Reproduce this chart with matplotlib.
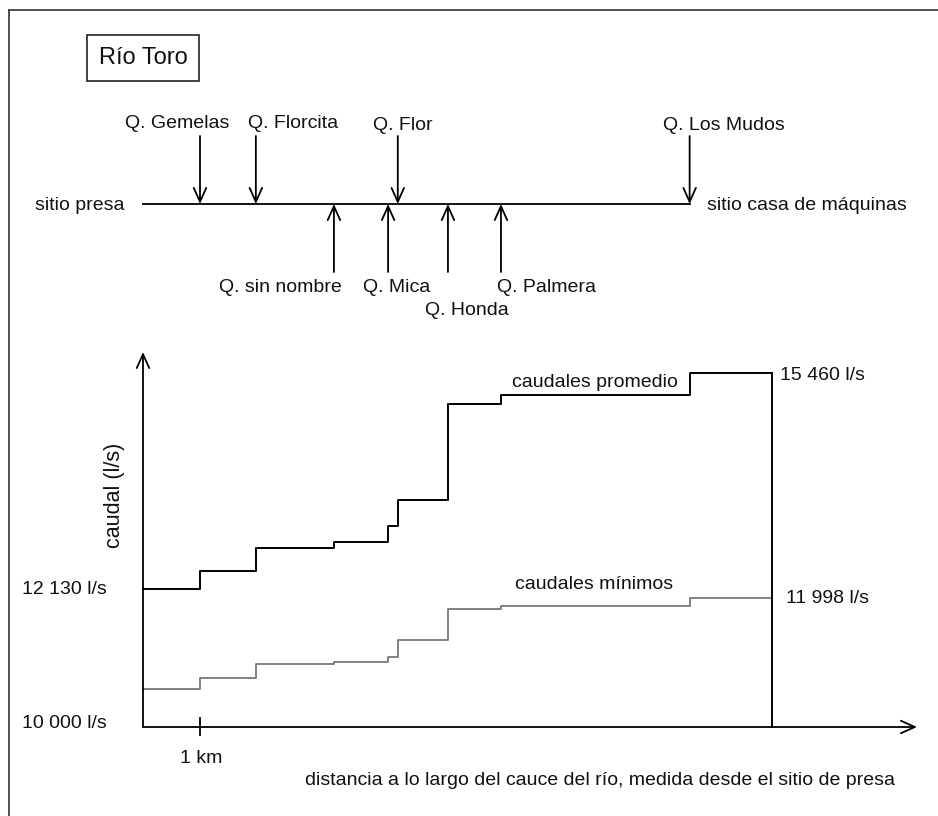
import matplotlib
matplotlib.use("Agg")
import matplotlib.pyplot as plt
from matplotlib.patches import Rectangle
from matplotlib.lines import Line2D

plt.rcParams['font.family'] = ['Liberation Sans', 'DejaVu Sans']

# ---------------- data ----------------
# tributaries (quebradas) along the river, distance from dam site in km
trib_names = ["Q. Gemelas", "Q. Florcita", "Q. sin nombre", "Q. Mica",
              "Q. Flor", "Q. Honda", "Q. Palmera", "Q. Los Mudos"]
trib_km = [1.00, 1.98, 3.35, 4.30, 4.47, 5.35, 6.28, 9.59]
trib_side = ["arriba", "arriba", "abajo", "abajo", "arriba", "abajo", "abajo", "arriba"]

# step profile of discharge (l/s) along the river
step_km = [0.0, 1.00, 1.98, 3.35, 4.30, 4.47, 5.35, 6.28, 9.59, 11.04]
caudal_promedio = [12130, 12407, 12767, 12855, 13106, 13503, 14989, 15119, 15460, 15460]
caudal_minimo = [10586, 10751, 10977, 11003, 11085, 11343, 11816, 11872, 11998, 11998]
casa_km = 11.04
q_base = 10000
tick_km = 1.0

# ---------------- layout helpers ----------------
W_PX, H_PX = 938, 816
X0_PX, XEND_PX = 143, 917          # x axis origin / arrow tip (pixels)
Y0_PX, YTOP_PX = 727, 352          # y axis origin / arrow tip (pixels from top)
PX_PER_KM = 57.0
PX_PER_LS = 0.0648

def kx(px):
    return (px - X0_PX) / PX_PER_KM

fig = plt.figure(figsize=(W_PX / 100, H_PX / 100), dpi=100)
L = X0_PX / W_PX
Wd = (XEND_PX - X0_PX) / W_PX

ax = fig.add_axes([L, (H_PX - Y0_PX) / H_PX, Wd, (Y0_PX - YTOP_PX) / H_PX])
ax.set_xlim(0, kx(XEND_PX))
ax.set_ylim(q_base, q_base + (Y0_PX - YTOP_PX) / PX_PER_LS)
ax.axis('off')

top = fig.add_axes([L, 0, Wd, 1], sharex=ax)
top.set_ylim(H_PX, 0)
top.axis('off')
top.patch.set_alpha(0)

txt = dict(fontsize=14, color='#111111', clip_on=False)
arrow = dict(arrowstyle='->,head_length=1.0,head_width=0.45', lw=1.3,
             color='black', shrinkA=0, shrinkB=0)

# ---------------- outer frame ----------------
fig.add_artist(Line2D([9 / W_PX, 9 / W_PX], [0, 1 - 10 / H_PX], color='#333333', lw=1.2))
fig.add_artist(Line2D([9 / W_PX, 1], [1 - 10 / H_PX, 1 - 10 / H_PX], color='#333333', lw=1.2))

# ---------------- schematic ----------------
top.add_patch(Rectangle((kx(87), 35), kx(199) - kx(87), 46, fill=False,
                        lw=1.2, edgecolor='#222222', clip_on=False))
top.text(kx(143), 64, "Río Toro", ha='center', va='baseline', fontsize=17,
         color='#111111', clip_on=False)

RIVER_Y = 204
top.plot([0, trib_km[-1]], [RIVER_Y, RIVER_Y], color='black', lw=1.3, clip_on=False)
top.text(kx(35), 210, "sitio presa", ha='left', va='baseline', **txt)
top.text(kx(707), 210, "sitio casa de máquinas", ha='left', va='baseline', **txt)

label_pos = {  # (x centre px, baseline px)
    "Q. Gemelas": (177.5, 128), "Q. Florcita": (293.5, 128), "Q. Flor": (403, 130),
    "Q. Los Mudos": (723.5, 130), "Q. sin nombre": (280, 292), "Q. Mica": (397, 292),
    "Q. Honda": (467, 315), "Q. Palmera": (546.5, 292),
}
for name, km, side in zip(trib_names, trib_km, trib_side):
    start = 136 if side == "arriba" else 272
    top.annotate('', xy=(km, RIVER_Y), xytext=(km, start), arrowprops=arrow,
                 annotation_clip=False)
    lx, ly = label_pos[name]
    top.text(kx(lx), ly, name, ha='center', va='baseline', **txt)

# ---------------- flow chart ----------------
ax.step(step_km, caudal_promedio, where='post', color='black', lw=1.4, clip_on=False)
ax.step(step_km, caudal_minimo, where='post', color='#808080', lw=1.4, clip_on=False)
ax.plot([casa_km, casa_km], [q_base, caudal_promedio[-1]], color='black', lw=1.4,
        clip_on=False)

ymax = ax.get_ylim()[1]
xmax = ax.get_xlim()[1]
ax.annotate('', xy=(0, ymax), xytext=(0, q_base), arrowprops=arrow, annotation_clip=False)
ax.annotate('', xy=(xmax, q_base), xytext=(0, q_base), arrowprops=arrow,
            annotation_clip=False)
top.plot([tick_km, tick_km], [718, 735], color='black', lw=1.3, clip_on=False)

top.text(kx(114), 495, "caudal (l/s)", rotation=90, ha='center', va='center',
         fontsize=15.5, color='#111111', clip_on=False)
top.text(kx(22), 594, f"{caudal_promedio[0]:,} l/s".replace(",", " "), ha='left',
         va='baseline', **txt)
top.text(kx(22), 728, f"{q_base:,} l/s".replace(",", " "), ha='left', va='baseline', **txt)
top.text(kx(780), 380, f"{caudal_promedio[-1]:,} l/s".replace(",", " "), ha='left',
         va='baseline', **txt)
top.text(kx(786), 603, f"{caudal_minimo[-1]:,} l/s".replace(",", " "), ha='left',
         va='baseline', **txt)
top.text(kx(512), 387, "caudales promedio", ha='left', va='baseline', **txt)
top.text(kx(515), 589, "caudales mínimos", ha='left', va='baseline', **txt)
top.text(kx(180), 763, "1 km", ha='left', va='baseline', **txt)
top.text(kx(305), 785, "distancia a lo largo del cauce del río, medida desde el sitio de presa",
         ha='left', va='baseline', **txt)

fig.savefig("out.png", dpi=100, facecolor='white')
